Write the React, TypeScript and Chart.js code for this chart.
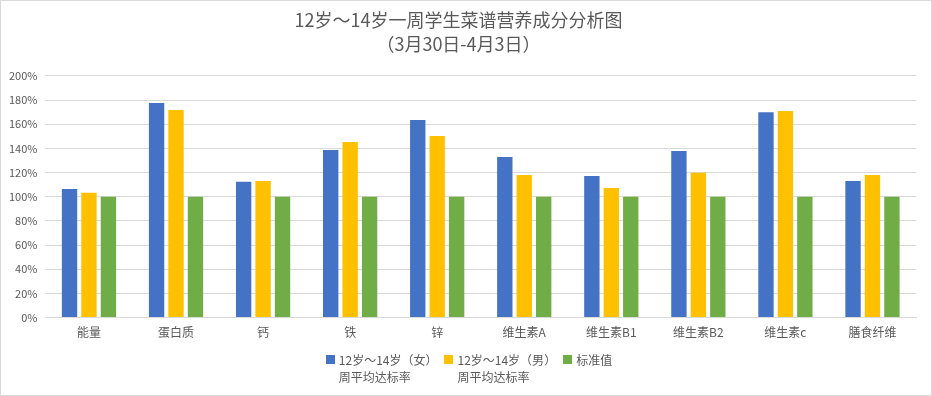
import React, { useEffect, useRef } from "react";
import { Chart, registerables } from "chart.js";

Chart.register(...registerables);

const categories = ["能量", "蛋白质", "钙", "铁", "锌", "维生素A", "维生素B1", "维生素B2", "维生素c", "膳食纤维"];
const femaleRate = [106.5, 177.5, 112.3, 138.7, 163.4, 132.9, 117.2, 137.8, 170.0, 113.1];
const maleRate = [103.2, 171.7, 113.1, 145.3, 150.2, 118.0, 107.3, 119.9, 170.9, 118.0];
const standardValue = [100, 100, 100, 100, 100, 100, 100, 100, 100, 100];
const seriesLabels = [
  ["12岁～14岁（女）", "周平均达标率"],
  ["12岁～14岁（男）", "周平均达标率"],
  ["标准值"],
];
const seriesColors = ["#4472C4", "#FFC000", "#70AD47"];
const titleLines = ["12岁～14岁一周学生菜谱营养成分分析图", "（3月30日-4月3日）"];

const FONT = "'Noto Sans CJK SC', 'Noto Sans', sans-serif";
const TEXT = "#595959";

export default function App() {
  const ref = useRef<HTMLCanvasElement | null>(null);
  useEffect(() => {
    document.body.style.margin = "0";
    const canvas = ref.current;
    if (!canvas) return;
    const chart = new Chart(canvas, {
      type: "bar",
      data: {
        labels: categories,
        datasets: [
          { label: seriesLabels[0].join(""), data: femaleRate, backgroundColor: seriesColors[0] },
          { label: seriesLabels[1].join(""), data: maleRate, backgroundColor: seriesColors[1] },
          { label: seriesLabels[2].join(""), data: standardValue, backgroundColor: seriesColors[2] },
        ],
      },
      options: {
        responsive: false,
        maintainAspectRatio: false,
        animation: false,
        devicePixelRatio: 1,
        layout: { padding: { left: 0, right: 15, top: 0, bottom: 55 } },
        datasets: {
          bar: { categoryPercentage: 0.67, barPercentage: 0.79 },
        },
        plugins: {
          title: {
            display: true,
            text: titleLines,
            color: TEXT,
            font: { family: FONT, size: 18, weight: "normal", lineHeight: 1.33 },
            padding: { top: 7, bottom: 20 },
          },
          legend: { display: false },
          tooltip: { enabled: false },
        },
        scales: {
          x: {
            grid: { display: false },
            border: { display: true, color: "#d9d9d9" },
            ticks: { color: TEXT, font: { family: FONT, size: 12 }, padding: 0, maxRotation: 0 },
          },
          y: {
            min: 0,
            max: 200,
            grid: { color: "#d9d9d9", drawTicks: false },
            border: { display: false },
            ticks: {
              stepSize: 20,
              color: TEXT,
              font: { family: FONT, size: 11 },
              padding: 8,
              callback: (v: any) => v + "%",
            },
          },
        },
      },
    });
    return () => chart.destroy();
  }, []);
  return (
    <div
      style={{
        position: "relative",
        width: 932,
        height: 396,
        boxSizing: "border-box",
        border: "1px solid #d9d9d9",
        background: "#fff",
      }}
    >
      <canvas ref={ref} width={930} height={394} style={{ display: "block" }} />
      <div
        style={{
          position: "absolute",
          left: 6,
          right: 0,
          top: 350,
          display: "flex",
          justifyContent: "center",
          fontFamily: FONT,
          fontSize: 12,
          lineHeight: "17px",
          color: TEXT,
        }}
      >
        {seriesLabels.map((lines, i) => (
          <div key={i} style={{ display: "flex", alignItems: "flex-start", marginLeft: i === 0 ? 0 : 7 }}>
            <div style={{ width: 9, height: 9, marginTop: 4, marginRight: 4, background: seriesColors[i] }} />
            <div>
              {lines.map((l, j) => (
                <div key={j} style={{ whiteSpace: "nowrap" }}>
                  {l}
                </div>
              ))}
            </div>
          </div>
        ))}
      </div>
    </div>
  );
}
